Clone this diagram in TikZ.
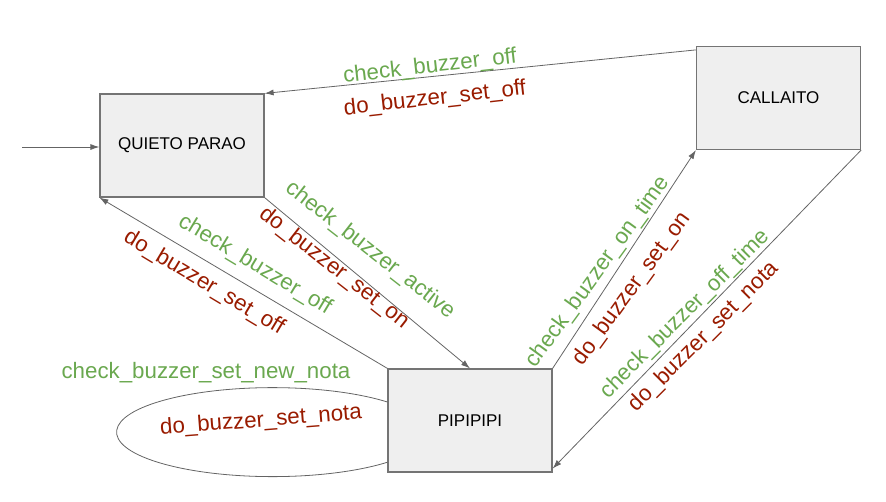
\documentclass[tikz,border=0pt]{standalone}
\usepackage{fontspec}
\setmainfont{Liberation Sans}
\usetikzlibrary{arrows.meta}

\definecolor{chkgreen}{RGB}{106,168,79}
\definecolor{actred}{RGB}{153,27,0}
\definecolor{boxgray}{RGB}{239,239,239}
\definecolor{linegray}{RGB}{100,100,100}

\begin{document}
\begin{tikzpicture}[x=1pt, y=-1pt, >={Latex[length=9pt, width=6pt]},
    state/.style={draw=linegray!90, fill=boxgray, line width=1.2pt, minimum width=164pt, minimum height=103pt, inner sep=0pt, font=\fontsize{17}{20}\selectfont},
    lbl/.style={inner sep=0pt, font=\fontsize{22.3}{26}\selectfont},
    chk/.style={lbl, text=chkgreen},
    act/.style={lbl, text=actred},
    conn/.style={draw=linegray, line width=0.8pt}]
    \useasboundingbox (0,0) rectangle (886,501);

    \node (quieto)   [state] at (182,145.5) {QUIETO PARAO};
    \node (callaito) [state] at (778.5,98)  {CALLAITO};
    \node (pipi)     [state] at (470,420.5) {PIPIPIPI};
    \coordinate (start) at (22,147);

    \draw[conn, ->] (start) -- (start -| quieto.west);
    \draw[conn, ->] ([yshift=-4pt]callaito.north west) -- (quieto.north east);
    \draw[conn, ->] (quieto.south east)                -- (pipi.north);
    \draw[conn, ->] (pipi.north west)                  -- (quieto.south west);
    \draw[conn, ->] (pipi.north east)                  -- (callaito.south west);
    \draw[conn, ->] (callaito.south east)              -- ([yshift=4pt]pipi.south east);
    \draw[conn] ([yshift=18.5pt]pipi.west) arc[start angle=42.6, end angle=317.4, x radius=156pt, y radius=44.5pt];

    \node (chkoff)     [chk, rotate=6.5] at (430,67)   {check\_buzzer\_off};
    \node (dooff)      [act, rotate=6.5] at (435,99)   {do\_buzzer\_set\_off};
    \node (chkactive)  [chk, rotate=-38] at (370,250)  {check\_buzzer\_active};
    \node (doon)       [act, rotate=-38] at (334,268)  {do\_buzzer\_set\_on};
    \node (chkback)    [chk, rotate=-31] at (255,265)  {check\_buzzer\_off};
    \node (doback)     [act, rotate=-31] at (204,283)  {do\_buzzer\_set\_off};
    \node (chkontime)  [chk, rotate=54]  at (598,272)  {check\_buzzer\_on\_time};
    \node (doontime)   [act, rotate=54]  at (632,289)  {do\_buzzer\_set\_on};
    \node (chkofftime) [chk, rotate=45]  at (685,314)  {check\_buzzer\_off\_time};
    \node (donota)     [act, rotate=45]  at (704,337)  {do\_buzzer\_set\_nota};
    \node (chknew)     [chk]             at (206,373)  {check\_buzzer\_set\_new\_nota};
    \node (donew)      [act, rotate=4.5] at (261,421)  {do\_buzzer\_set\_nota};
\end{tikzpicture}
\end{document}
